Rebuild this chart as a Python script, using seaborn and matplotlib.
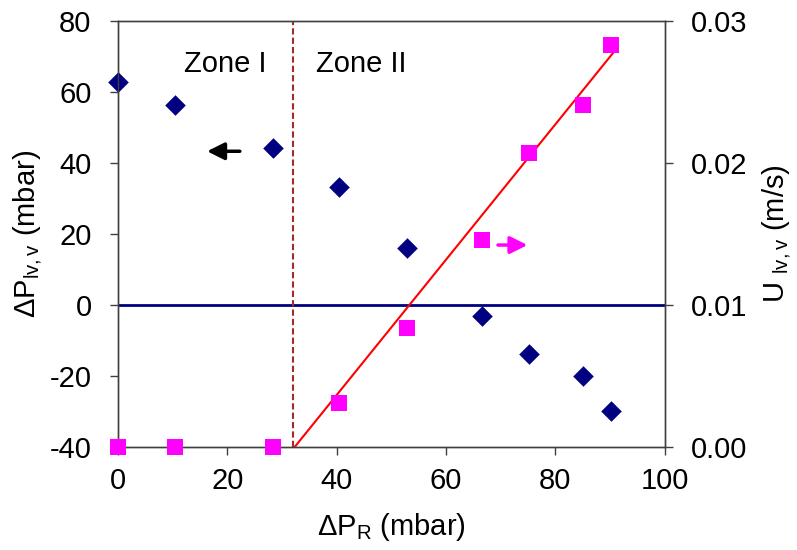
import numpy as np
import pandas as pd
import matplotlib
matplotlib.use("Agg")
import matplotlib.pyplot as plt
import seaborn as sns

# datos
dp_r = [0, 10.5, 28.3, 40.4, 52.8, 66.6, 75.1, 85.1, 90.1]  # mbar
dp_lv = [62.9, 56.3, 44.1, 33.1, 16.2, -3.1, -13.9, -19.9, -29.7]  # mbar
u_lv = [0.0, 0.0, 0.0, 0.0031, 0.0084, 0.0146, 0.0207, 0.0241, 0.0283]  # m/s

# recta de ajuste (zona II)
fit_x = [32.3, 91.3]
fit_u = [0.0, 0.0281]

zona_limite = 32.0

sns.set_style("white")
plt.rcParams['font.family'] = ['Liberation Sans', 'DejaVu Sans']
plt.rcParams['mathtext.fontset'] = 'custom'
plt.rcParams['mathtext.rm'] = 'Liberation Sans'
plt.rcParams['mathtext.it'] = 'Liberation Sans'
plt.rcParams['axes.unicode_minus'] = False
plt.rcParams['text.color'] = 'black'
plt.rcParams['axes.labelcolor'] = 'black'

fs = 21

fig = plt.figure(figsize=(7.97, 5.5), dpi=100)
ax = fig.add_axes([0.148, 0.187, 0.686, 0.775])
ax2 = ax.twinx()

df = pd.DataFrame({'dp_r': dp_r, 'dp_lv': dp_lv, 'u_lv': u_lv})

ax.axhline(0, color='#000080', lw=2, zorder=1)
ax.axvline(zona_limite, color='#A52A2A', lw=1.5, ls=(0, (3, 1.5)), zorder=1)

sns.scatterplot(data=df, x='dp_r', y='dp_lv', ax=ax, marker='D', s=110,
                color='#000080', edgecolor='#000080', linewidth=0, zorder=3, clip_on=False)
sns.lineplot(x=fit_x, y=fit_u, ax=ax2, color='red', lw=1.5, zorder=2)
sns.scatterplot(data=df, x='dp_r', y='u_lv', ax=ax2, marker='s', s=130,
                color='magenta', edgecolor='magenta', linewidth=0, zorder=3, clip_on=False)

ax.set_xlim(0, 100)
ax.set_ylim(-40, 80)
ax.set_xticks(np.arange(0, 101, 20))
ax.set_yticks(np.arange(-40, 81, 20))
ax2.set_ylim(0, 0.03)
ax2.set_yticks([0, 0.01, 0.02, 0.03])
ax2.set_yticklabels(['0.00', '0.01', '0.02', '0.03'])

ax.set_xlabel(r'$\Delta$P$_\mathrm{R}$ (mbar)', fontsize=fs, labelpad=12)
ax.set_ylabel(r'$\Delta$P$_\mathrm{lv,v}$ (mbar)', fontsize=fs, labelpad=4)
ax2.set_ylabel(r'U $_\mathrm{lv,v}$ (m/s)', fontsize=fs, rotation=90, labelpad=9)

for a in (ax, ax2):
    a.tick_params(direction='out', length=6, width=1, colors='#404040',
                  labelcolor='black', labelsize=fs)
    for sp in a.spines.values():
        sp.set_color('#404040')
        sp.set_linewidth(1)
ax.tick_params(axis='x', bottom=True, pad=8)
ax.tick_params(axis='y', left=True, pad=13)
ax2.tick_params(axis='y', right=True, pad=13)

ax.text(19.7, 68, 'Zone I', fontsize=fs, ha='center', va='center')
ax.text(44.5, 68, 'Zone II', fontsize=fs, ha='center', va='center')

ax.annotate('', xy=(15.8, 43.3), xytext=(22.8, 43.3),
            arrowprops=dict(arrowstyle='-|>', color='black', lw=2.5, mutation_scale=26))
ax.annotate('', xy=(75.4, 16.9), xytext=(69.0, 16.9),
            arrowprops=dict(arrowstyle='-|>', color='magenta', lw=2.5, mutation_scale=26))

fig.savefig('out.png', dpi=100)
